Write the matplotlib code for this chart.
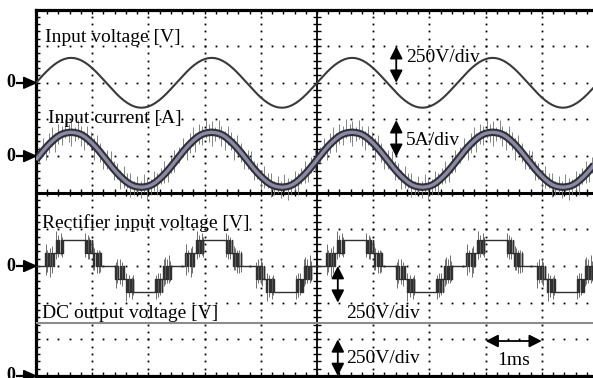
import matplotlib
matplotlib.use("Agg")
import matplotlib.pyplot as plt
import numpy as np
from matplotlib.patches import Polygon

plt.rcParams['font.family'] = ['Liberation Serif', 'DejaVu Serif']

# time base: 1 div = 1 ms, one mains period = 2.5 ms, 4 periods on screen
PERIOD = 2.5
N_PERIODS = 4

# input voltage, one period, in divisions (250 V/div), 40 samples
V_WAVE = [0, .106, .210, .309, .400, .481, .550, .606, .647, .672,
          .68, .672, .647, .606, .550, .481, .400, .309, .210, .106,
          0, -.106, -.210, -.309, -.400, -.481, -.550, -.606, -.647, -.672,
          -.68, -.672, -.647, -.606, -.550, -.481, -.400, -.309, -.210, -.106]
V_ZERO = 8.0

# input current, one period, in divisions (5 A/div)
I_WAVE = [0, .12, .24, .35, .45, .54, .62, .68, .72, .74,
          .75, .74, .72, .68, .62, .54, .45, .35, .24, .12,
          0, -.12, -.24, -.35, -.45, -.54, -.62, -.68, -.72, -.74,
          -.75, -.74, -.72, -.68, -.62, -.54, -.45, -.35, -.24, -.12]
I_ZERO = 5.9
# switching noise on the current (time in ms within a period, up / down in div)
I_SPIKE_T = [0.05, 0.12, 0.18, 0.24, 0.29, 0.33, 0.40, 0.46, 0.52, 0.58, 0.63,
             0.69, 0.75, 0.80, 0.86, 0.91, 0.97, 1.03, 1.08, 1.14, 1.20, 1.27,
             1.33, 1.38, 1.44, 1.50, 1.56, 1.62, 1.68, 1.74, 1.80, 1.86, 1.92,
             1.98, 2.04, 2.10, 2.16, 2.22, 2.28, 2.34, 2.40, 2.46]
I_SPIKE_UP = [.24, .36, .14, .30, .40, .18, .34, .24, .38, .22, .30,
              .16, .36, .24, .14, .34, .26, .18, .36, .24, .14, .30,
              .40, .22, .26, .16, .36, .24, .30, .14, .28, .18, .36,
              .24, .16, .34, .22, .28, .38, .16, .26, .34]
I_SPIKE_DN = [.18, .12, .34, .24, .14, .36, .22, .30, .12, .26, .36,
              .22, .14, .30, .38, .18, .24, .40, .16, .26, .36, .22,
              .14, .30, .18, .36, .24, .16, .34, .24, .18, .30, .14,
              .36, .26, .22, .38, .16, .24, .30, .18, .26]

# rectifier input voltage: 5-level staircase, switching instants (ms) and level
RECT_T = [0, 0.160, 0.181, 0.210, 0.240, 0.263, 0.299, 0.313,
          0.347, 0.365, 0.391, 0.418, 0.436, 0.468, 0.480,
          0.872, 0.890, 0.907, 0.943, 0.957, 0.988, 0.996,
          1.014, 1.032, 1.059, 1.085, 1.103, 1.139, 1.149,
          1.410, 1.431, 1.460, 1.490, 1.513, 1.549, 1.563,
          1.597, 1.615, 1.641, 1.668, 1.686, 1.718, 1.730,
          2.122, 2.140, 2.157, 2.193, 2.207, 2.238, 2.246,
          2.264, 2.282, 2.309, 2.335, 2.353, 2.389, 2.399]
RECT_L = [0, 1, 0, 1, 0, 1, 0, 1,
          2, 1, 2, 1, 2, 1, 2,
          1, 2, 1, 2, 1, 2, 1,
          0, 1, 0, 1, 0, 1, 0,
          -1, 0, -1, 0, -1, 0, -1,
          -2, -1, -2, -1, -2, -1, -2,
          -1, -2, -1, -2, -1, -2, -1,
          0, -1, 0, -1, 0, -1, 0]
RECT_STEP = 0.36
RECT_ZERO = 3.0
RECT_SPIKE_T = [0.17, 0.20, 0.25, 0.28, 0.36, 0.40, 0.45, 0.47,
                0.88, 0.92, 0.95, 1.02, 1.04, 1.08, 1.12, 1.14,
                1.42, 1.45, 1.50, 1.53, 1.61, 1.65, 1.70, 1.72,
                2.13, 2.17, 2.20, 2.27, 2.29, 2.33, 2.37, 2.39]
RECT_SPIKE_HI = [0.60, 0.45, 0.50, 0.55, 0.95, 0.85, 0.90, 0.80,
                 0.90, 0.85, 0.80, 0.55, 0.50, 0.45, 0.45, 0.40,
                 0.10, 0.20, 0.20, 0.10, -0.20, -0.25, -0.30, -0.25,
                 -0.25, -0.20, -0.20, 0.20, 0.25, 0.20, 0.30, 0.15]
RECT_SPIKE_LO = [-0.25, -0.15, -0.30, -0.20, 0.20, 0.25, 0.30, 0.25,
                 0.25, 0.20, 0.20, -0.10, -0.10, -0.20, -0.20, -0.15,
                 -0.60, -0.45, -0.50, -0.55, -0.95, -0.85, -0.90, -0.80,
                 -0.90, -0.85, -0.80, -0.55, -0.50, -0.45, -0.45, -0.40]

# DC output voltage (250 V/div), zero at the bottom edge
DC_LEVEL = 1.45
DC_ZERO = 0.0

ZERO_MARKS = [V_ZERO, 6.0, RECT_ZERO, DC_ZERO]


def tile(t_one, y_one):
    t = np.concatenate([np.asarray(t_one) + k * PERIOD for k in range(N_PERIODS)])
    y = np.tile(np.asarray(y_one, dtype=float), N_PERIODS)
    return np.append(t, N_PERIODS * PERIOD), np.append(y, y_one[0])


fig = plt.figure(figsize=(5.93, 3.78), dpi=100)
ax = fig.add_axes([36 / 593, 2 / 378, 562 / 593, 366.5 / 378])
ax.set_xlim(0, 10)
ax.set_ylim(0, 10)
ax.set_xticks([])
ax.set_yticks([])
for s in ['left', 'top', 'bottom']:
    ax.spines[s].set_linewidth(2.3)
ax.spines['right'].set_visible(False)

# dotted graticule
dots = np.arange(0, 10.01, 0.2)
for g in [1, 2, 3, 4, 6, 7, 8, 9]:
    ax.plot(dots, np.full_like(dots, g), 's', ms=1.3, color='black', mew=0)
    ax.plot(np.full_like(dots, g), dots, 's', ms=1.3, color='black', mew=0)

# centre lines with minor ticks
ax.axhline(5, color='black', lw=2.2)
ax.axvline(5, color='black', lw=1.3)
ax.hlines(dots, 5 - 0.075, 5 + 0.075, color='black', lw=1.0)
ax.vlines(dots, 5 - 0.09, 5 + 0.09, color='black', lw=1.0)
ax.vlines(dots, 10 - 0.11, 10, color='black', lw=1.0)
ax.vlines(dots, 0, 0.11, color='black', lw=1.0)
ax.hlines(dots, 0, 0.075, color='black', lw=1.0)

# input voltage
t, y = tile(np.arange(len(V_WAVE)) * PERIOD / len(V_WAVE), V_WAVE)
ax.plot(t, V_ZERO + y, color='#3a3a3a', lw=1.5, zorder=4)

# input current with switching noise
t, y = tile(np.arange(len(I_WAVE)) * PERIOD / len(I_WAVE), I_WAVE)
st = np.concatenate([np.asarray(I_SPIKE_T) + k * PERIOD for k in range(N_PERIODS)])
up = np.tile(I_SPIKE_UP, N_PERIODS)
dn = np.tile(I_SPIKE_DN, N_PERIODS)
base = I_ZERO + np.interp(st, t, y)
ax.vlines(st, base - dn, base + up, color='#707070', lw=0.6, zorder=3)
ax.plot(t, I_ZERO + y, color='#2f2f35', lw=5.4, zorder=4, solid_capstyle='butt')
ax.plot(t, I_ZERO + y, color='#8a8aa6', lw=2.4, zorder=5, solid_capstyle='butt')

# rectifier input voltage
t, lv = tile(RECT_T, RECT_L)
ax.plot(t, RECT_ZERO + lv * RECT_STEP, color='#303030', lw=1.0,
        drawstyle='steps-post', zorder=4)
st = np.concatenate([np.asarray(RECT_SPIKE_T) + k * PERIOD for k in range(N_PERIODS)])
ax.vlines(st, RECT_ZERO + np.tile(RECT_SPIKE_LO, N_PERIODS),
          RECT_ZERO + np.tile(RECT_SPIKE_HI, N_PERIODS), color='#6e6e6e', lw=0.7, zorder=3)

# DC output voltage
ax.plot([0, 10], [DC_ZERO + DC_LEVEL, DC_ZERO + DC_LEVEL], color='#8c8c8c', lw=1.5, zorder=4)

# zero markers on the left
for z in ZERO_MARKS:
    ax.add_patch(Polygon([(-0.22, z + 0.15), (0, z), (-0.22, z - 0.15)], closed=True,
                         color='black', clip_on=False))
    ax.plot([-0.33, -0.2], [z, z], color='black', lw=1.6, clip_on=False)
    ax.text(-0.45, z, '0', ha='center', va='center', fontsize=13, fontweight='bold',
            clip_on=False)

# labels
fs = 14
ax.text(0.16, 9.11, 'Input voltage [V]', fontsize=fs, va='baseline')
ax.text(0.21, 6.90, 'Input current [A]', fontsize=fs, va='baseline')
ax.text(0.11, 4.04, 'Rectifier input voltage [V]', fontsize=fs, va='baseline')
ax.text(0.11, 1.57, 'DC output voltage [V]', fontsize=fs, va='baseline')
ax.text(6.58, 8.57, '250V/div', fontsize=fs, va='baseline')
ax.text(6.58, 6.30, '5A/div', fontsize=fs, va='baseline')
ax.text(5.52, 1.58, '250V/div', fontsize=fs, va='baseline')
ax.text(5.52, 0.36, '250V/div', fontsize=fs, va='baseline')
ax.text(8.5, 0.30, '1ms', fontsize=fs, va='baseline', ha='center')

# scale arrows
arr = dict(arrowstyle='<|-|>,head_length=0.75,head_width=0.38', color='black', lw=1.3,
           shrinkA=0, shrinkB=0)
for x0, y0, x1, y1 in [(6.41, 8.0, 6.41, 9.0), (6.41, 5.98, 6.41, 6.98),
                       (5.37, 2.0, 5.37, 3.0), (5.37, 0.0, 5.37, 1.0),
                       (8.0, 0.955, 9.0, 0.955)]:
    ax.annotate('', xy=(x1, y1), xytext=(x0, y0), arrowprops=arr, zorder=6)

fig.savefig('out.png', dpi=100)
